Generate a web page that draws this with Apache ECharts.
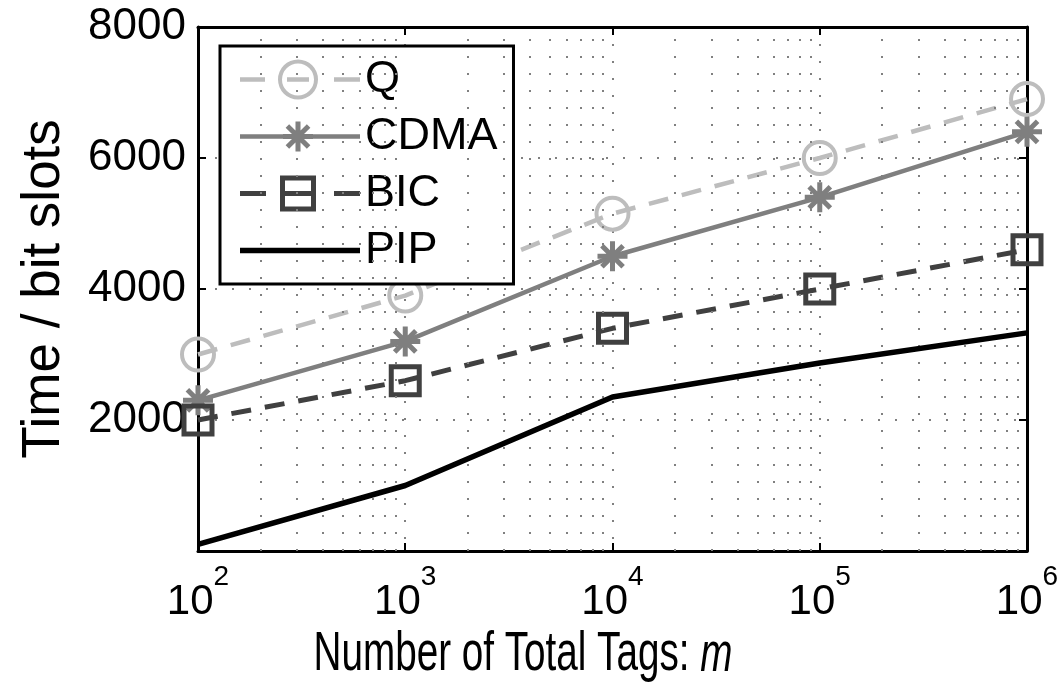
<!DOCTYPE html>
<html><head><meta charset="utf-8">
<script src="https://cdn.jsdelivr.net/npm/echarts@6/dist/echarts.min.js"></script>
<style>html,body{margin:0;padding:0;background:#fff}#c{width:1062px;height:685px}</style>
</head><body><div id="c"></div>
<script>
// ---- data ----
const tags = [100, 1000, 10000, 100000, 1000000];
const qValues = [3000, 3900, 5150, 6000, 6900];
const cdmaValues = [2300, 3200, 4500, 5400, 6400];
const bicValues = [2000, 2600, 3400, 4000, 4600];
const pipValues = [100, 1000, 2350, 2870, 3330];
const seriesNames = ['Q', 'CDMA', 'BIC', 'PIP'];
const yTicks = [0, 2000, 4000, 6000, 8000];
const decades = [100, 1000, 10000, 100000];
const minorMultipliers = [2, 3, 4, 5, 6, 7, 8, 9];
const xTitle = 'Number of Total Tags: ';
const xTitleVar = 'm';
const yTitle = 'Time / bit slots';

const FONT = '"Liberation Sans", Arial, Helvetica, sans-serif';
const minorGrid = [];
decades.forEach(d => minorMultipliers.forEach(m => minorGrid.push(d * m)));

const pairs = vals => tags.map((t, i) => [t, vals[i]]);
const dotted = { type: [2, 15], color: '#808080', width: 2 };
const asterisk = 'path://M0,10L20,10M10,0L10,20M2.93,2.93L17.07,17.07M2.93,17.07L17.07,2.93';
const CLEAR = 'rgba(0,0,0,0)';

// ---- legend icon shapes (filled paths in a 120 x 40 box) ----
const f = n => n.toFixed(2);
function bar(cx, cy, len, w, deg) {
  const t = deg * Math.PI / 180, c = Math.cos(t), s = Math.sin(t);
  const hx = len / 2 * c, hy = len / 2 * s, wx = -w / 2 * s, wy = w / 2 * c;
  const p = [[cx - hx - wx, cy - hy - wy], [cx + hx - wx, cy + hy - wy], [cx + hx + wx, cy + hy + wy], [cx - hx + wx, cy - hy + wy]];
  return 'M' + p.map(q => f(q[0]) + ',' + f(q[1])).join('L') + 'Z';
}
function seg(x0, x1, w) { return bar((x0 + x1) / 2, 20, x1 - x0, w, 0); }
function ring(cx, cy, ro, ri) {
  return 'M' + f(cx - ro) + ',' + f(cy) + 'A' + ro + ',' + ro + ',0,1,1,' + f(cx + ro) + ',' + f(cy) +
         'A' + ro + ',' + ro + ',0,1,1,' + f(cx - ro) + ',' + f(cy) + 'Z' +
         'M' + f(cx - ri) + ',' + f(cy) + 'A' + ri + ',' + ri + ',0,1,0,' + f(cx + ri) + ',' + f(cy) +
         'A' + ri + ',' + ri + ',0,1,0,' + f(cx - ri) + ',' + f(cy) + 'Z';
}
function squareRing(cx, cy, ho, hi) {
  return 'M' + f(cx - ho) + ',' + f(cy - ho) + 'L' + f(cx + ho) + ',' + f(cy - ho) + 'L' + f(cx + ho) + ',' + f(cy + ho) + 'L' + f(cx - ho) + ',' + f(cy + ho) + 'Z' +
         'M' + f(cx - hi) + ',' + f(cy - hi) + 'L' + f(cx - hi) + ',' + f(cy + hi) + 'L' + f(cx + hi) + ',' + f(cy + hi) + 'L' + f(cx + hi) + ',' + f(cy - hi) + 'Z';
}
const legendIcons = {
  Q: 'path://' + seg(0, 25, 4.5) + ring(58, 20, 20, 16) + seg(47, 69, 4.5) + seg(94, 120, 4.5),
  CDMA: 'path://' + seg(0, 120, 4.5) + [0, 45, 90, 135].map(a => bar(58, 20, 30, 5, a)).join(''),
  BIC: 'path://' + seg(0, 26, 5) + squareRing(58, 20, 18, 13) + seg(45, 71, 5) + seg(94, 120, 5),
  PIP: 'path://' + seg(0, 120, 5.5)
};

const styles = {
  Q:    { color: '#bdbdbd', line: { color: '#bdbdbd', width: 4.5, type: [20, 14] }, item: { color: CLEAR, borderColor: '#bdbdbd', borderWidth: 4 } },
  CDMA: { color: '#7f7f7f', line: { color: '#7f7f7f', width: 4.5, type: 'solid' }, item: { color: '#7f7f7f', borderColor: '#7f7f7f', borderWidth: 5 } },
  BIC:  { color: '#404040', line: { color: '#404040', width: 5, type: [20, 14] }, item: { color: CLEAR, borderColor: '#404040', borderWidth: 5 } },
  PIP:  { color: '#000000', line: { color: '#000000', width: 5.5, type: 'solid' }, item: { color: CLEAR, borderColor: CLEAR, borderWidth: 0 } }
};

const chart = echarts.init(document.getElementById('c'), null, { renderer: 'canvas' });
chart.setOption({
  animation: false,
  backgroundColor: '#fff',
  grid: { left: 198, right: 35, top: 27, bottom: 134, show: false },
  legend: {
    orient: 'vertical', left: 220, top: 46,
    itemWidth: 120, itemHeight: 40, itemGap: 12,
    padding: [11, 16, 11, 20],
    borderColor: '#000', borderWidth: 3, backgroundColor: '#fff',
    symbolKeepAspect: true,
    textStyle: { fontSize: 45, color: '#000', fontFamily: FONT },
    data: seriesNames.map(n => ({
      name: n, icon: legendIcons[n],
      itemStyle: { color: styles[n].color, borderColor: CLEAR, borderWidth: 0 }
    }))
  },
  xAxis: [{
    type: 'log', logBase: 10, min: tags[0], max: tags[tags.length - 1],
    position: 'bottom',
    axisLine: { show: true, onZero: false, lineStyle: { color: '#000', width: 3 } },
    axisTick: { show: true, inside: true, length: 8, lineStyle: { color: '#000', width: 2 } },
    splitLine: { show: true, lineStyle: dotted },
    axisLabel: {
      margin: 12,
      formatter: v => '{b|10}{s|' + Math.round(Math.log10(v)) + '}',
      rich: {
        b: { fontSize: 42, fontFamily: FONT, color: '#000', padding: [18, 0, 0, 0] },
        s: { fontSize: 28, fontFamily: FONT, color: '#000', verticalAlign: 'top' }
      }
    }
  }, {
    type: 'log', logBase: 10, min: tags[0], max: tags[tags.length - 1],
    position: 'top',
    axisLine: { show: true, onZero: false, lineStyle: { color: '#000', width: 3 } },
    axisTick: { show: true, inside: true, length: 8, lineStyle: { color: '#000', width: 2 } },
    splitLine: { show: false }, axisLabel: { show: false }
  }],
  yAxis: [{
    type: 'value', min: yTicks[0], max: yTicks[yTicks.length - 1], interval: yTicks[1] - yTicks[0],
    name: yTitle, nameLocation: 'middle', nameGap: 127,
    nameTextStyle: { fontSize: 53, fontFamily: FONT, color: '#000' },
    axisLine: { show: true, onZero: false, lineStyle: { color: '#000', width: 3 } },
    axisTick: { show: true, inside: true, length: 8, lineStyle: { color: '#000', width: 2 } },
    splitLine: { show: true, lineStyle: dotted },
    axisLabel: { margin: 12, fontSize: 44, fontFamily: FONT, color: '#000',
      formatter: v => (v === 0 ? '' : String(v)) }
  }, {
    type: 'value', min: yTicks[0], max: yTicks[yTicks.length - 1], interval: yTicks[1] - yTicks[0],
    position: 'right',
    axisLine: { show: true, onZero: false, lineStyle: { color: '#000', width: 3 } },
    axisTick: { show: true, inside: true, length: 8, lineStyle: { color: '#000', width: 2 } },
    splitLine: { show: false }, axisLabel: { show: false }
  }],
  graphic: [{
    type: 'text', x: 523, y: 655, scaleX: 0.69, scaleY: 1,
    style: {
      text: '{n|' + xTitle + '}{i|' + xTitleVar + '}',
      textAlign: 'center', textVerticalAlign: 'middle',
      rich: {
        n: { fontSize: 56, fontFamily: FONT, fill: '#000' },
        i: { fontSize: 56, fontFamily: FONT, fontStyle: 'italic', fill: '#000' }
      }
    }
  }],
  series: [{
    name: '_grid', type: 'line', data: [], silent: true, z: 1,
    markLine: {
      silent: true, symbol: ['none', 'none'], label: { show: false },
      lineStyle: dotted, animation: false,
      data: minorGrid.map(v => ({ xAxis: v }))
    }
  }, {
    name: 'Q', type: 'line', data: pairs(qValues), z: 2,
    symbol: 'circle', symbolSize: 32,
    itemStyle: styles.Q.item, lineStyle: styles.Q.line
  }, {
    name: 'CDMA', type: 'line', data: pairs(cdmaValues), z: 3,
    symbol: asterisk, symbolSize: 30,
    itemStyle: styles.CDMA.item, lineStyle: styles.CDMA.line
  }, {
    name: 'BIC', type: 'line', data: pairs(bicValues), z: 4,
    symbol: 'rect', symbolSize: 28,
    itemStyle: styles.BIC.item, lineStyle: styles.BIC.line
  }, {
    name: 'PIP', type: 'line', data: pairs(pipValues), z: 5,
    symbol: 'circle', showSymbol: false, symbolSize: 0,
    itemStyle: styles.PIP.item, lineStyle: styles.PIP.line
  }]
});
</script>
</body></html>
